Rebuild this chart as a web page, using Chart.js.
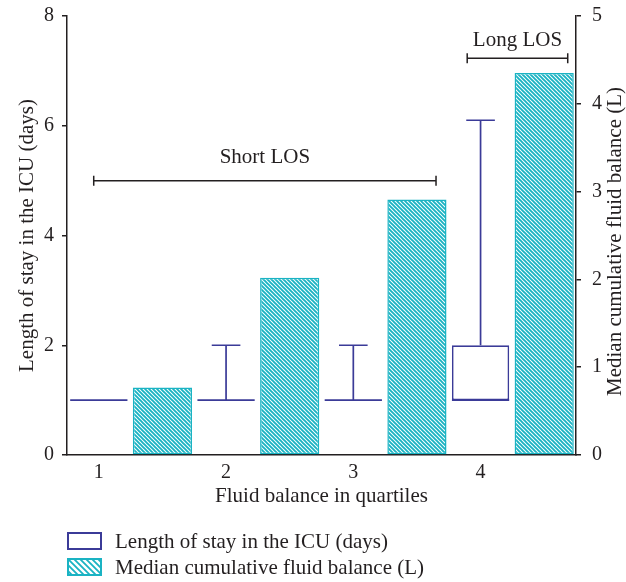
<!DOCTYPE html>
<html>
<head>
<meta charset="utf-8">
<script src="https://cdn.jsdelivr.net/npm/chart.js@4/dist/chart.umd.min.js"></script>
<style>
  body { margin: 0; background: #fff; }
  #wrap { position: relative; width: 626px; height: 582px; }
  #legend {
    position: absolute; left: 67px; top: 528px;
    font-family: "Liberation Serif", serif; font-size: 21px; color: #231f20;
  }
  .item { display: flex; align-items: center; height: 26px; }
  .swatch { width: 35px; height: 18px; box-sizing: border-box; margin-right: 13px; }
  .box { border: 2px solid #3b3b98; background: #fff; }
</style>
</head>
<body>
<div id="wrap">
  <canvas id="chart" width="626" height="582"></canvas>
  <div id="legend">
    <div class="item"><div class="swatch box"></div>Length of stay in the ICU (days)</div>
    <div class="item"><canvas class="swatch" id="hatchSwatch" width="35" height="18"></canvas>Median cumulative fluid balance (L)</div>
  </div>
</div>
<script>
// Data
const quartiles = ['1', '2', '3', '4'];
const losLow = [1, 1, 1, 1];          // box bottom / median line (days)
const losHigh = [1, 1, 1, 2];         // box top (days)
const losWhisker = [1, 2, 2, 6.1];    // whisker end (days)
const fluidMedian = [0.77, 2.02, 2.91, 4.35]; // litres

const leftTicks = [0, 2, 4, 6, 8];
const rightTicks = [0, 1, 2, 3, 4, 5];

// group brackets drawn above the bars (x in slot units, y in days)
const brackets = [
  { label: 'Short LOS', from: -0.08, to: 5.3, at: 5.0, textAt: 5.42 },
  { label: 'Long LOS', from: 5.79, to: 7.37, at: 7.23, textAt: 7.56 }
];

const NAVY = '#3b3b98';
const TEAL = '#1ab3c3';
const INK = '#231f20';
const FONT = { family: '"Liberation Serif", serif', size: 20 };
const TITLE_FONT = { family: '"Liberation Serif", serif', size: 21 };

function makeHatch(size, lw) {
  const c = document.createElement('canvas');
  c.width = c.height = size;
  const g = c.getContext('2d');
  g.fillStyle = '#fff';
  g.fillRect(0, 0, size, size);
  g.strokeStyle = TEAL;
  g.lineWidth = lw;
  g.beginPath();
  g.moveTo(-1, -1); g.lineTo(size + 1, size + 1);
  g.moveTo(-1, size - 1); g.lineTo(1, size + 1);
  g.moveTo(size - 1, -1); g.lineTo(size + 1, 1);
  g.stroke();
  return c;
}

const ctx = document.getElementById('chart').getContext('2d');
const hatch = ctx.createPattern(makeHatch(4, 1.9), 'repeat');

// legend swatch
(function () {
  const sw = document.getElementById('hatchSwatch').getContext('2d');
  sw.fillStyle = sw.createPattern(makeHatch(6, 1.8), 'repeat');
  sw.fillRect(0, 0, 35, 18);
  sw.strokeStyle = TEAL;
  sw.lineWidth = 2;
  sw.strokeRect(1, 1, 33, 16);
})();

// two slots per quartile: LOS box, then fluid bar
const slotLabels = quartiles.flatMap(q => [q, '']);
const losData = quartiles.flatMap((q, i) => [[losLow[i], losHigh[i]], null]);
const fluidData = quartiles.flatMap((q, i) => [null, fluidMedian[i]]);

const whiskerPlugin = {
  id: 'whiskers',
  afterDatasetsDraw(chart) {
    const c = chart.ctx;
    const yL = chart.scales.yL;
    const xs = chart.scales.x;
    const meta = chart.getDatasetMeta(0);
    c.save();
    c.strokeStyle = NAVY;
    c.lineWidth = 1.7;
    quartiles.forEach((q, i) => {
      const el = meta.data[i * 2];
      const half = el.width / 2;
      const x = el.x;
      const yLow = yL.getPixelForValue(losLow[i]);
      c.beginPath();
      c.moveTo(x - half, yLow); c.lineTo(x + half, yLow);
      if (losWhisker[i] > losHigh[i]) {
        const yHigh = yL.getPixelForValue(losHigh[i]);
        const yTop = yL.getPixelForValue(losWhisker[i]);
        c.moveTo(x, yHigh); c.lineTo(x, yTop);
        c.moveTo(x - half / 2, yTop); c.lineTo(x + half / 2, yTop);
      }
      c.stroke();
    });

    // brackets
    c.strokeStyle = INK;
    c.fillStyle = INK;
    c.lineWidth = 1.5;
    c.font = '21px "Liberation Serif", serif';
    c.textAlign = 'center';
    c.textBaseline = 'middle';
    brackets.forEach(b => {
      const x1 = xs.getPixelForValue(b.from);
      const x2 = xs.getPixelForValue(b.to);
      const y = yL.getPixelForValue(b.at);
      c.beginPath();
      c.moveTo(x1, y); c.lineTo(x2, y);
      c.moveTo(x1, y - 5); c.lineTo(x1, y + 5);
      c.moveTo(x2, y - 5); c.lineTo(x2, y + 5);
      c.stroke();
      c.fillText(b.label, (x1 + x2) / 2, yL.getPixelForValue(b.textAt));
    });

    // right axis title, reading bottom to top
    const yR = chart.scales.yR;
    c.save();
    c.translate(yR.right - 11, (chart.chartArea.top + chart.chartArea.bottom) / 2 + 6);
    c.rotate(-Math.PI / 2);
    c.fillText('Median cumulative fluid balance (L)', 0, 0);
    c.restore();
    c.restore();
  }
};

const axisLine = { display: true, color: INK, width: 1.5 };

function fixWidth(w) {
  return s => {
    s.width = w;
    s.paddingTop = 0; s.paddingBottom = 0;
  };
}

new Chart(ctx, {
  type: 'bar',
  data: {
    labels: slotLabels,
    datasets: [{
      label: 'Length of stay in the ICU (days)',
      data: losData,
      yAxisID: 'yL',
      backgroundColor: '#fff',
      borderColor: NAVY,
      borderWidth: 1.7,
      borderSkipped: false,
      grouped: false,
      barPercentage: 0.9,
      categoryPercentage: 1
    }, {
      label: 'Median cumulative fluid balance (L)',
      data: fluidData,
      yAxisID: 'yR',
      backgroundColor: hatch,
      borderColor: TEAL,
      borderWidth: 1.5,
      borderSkipped: false,
      grouped: false,
      barPercentage: 0.93,
      categoryPercentage: 1
    }]
  },
  options: {
    responsive: false,
    animation: false,
    layout: { padding: { top: 16, bottom: 73, left: 0, right: 0 } },
    plugins: { legend: { display: false }, tooltip: { enabled: false } },
    scales: {
      x: {
        grid: { display: false, drawTicks: false },
        border: axisLine,
        ticks: { autoSkip: false, maxRotation: 0, color: INK, font: FONT, padding: 6 },
        title: { display: true, text: 'Fluid balance in quartiles', color: INK, font: TITLE_FONT, padding: { top: 0, bottom: 0 } },
        afterFit: s => { s.height = 54; s.paddingLeft = 0; s.paddingRight = 0; }
      },
      yL: {
        position: 'left',
        min: 0, max: 8,
        afterBuildTicks: s => { s.ticks = leftTicks.map(v => ({ value: v })); },
        grid: { display: true, drawOnChartArea: false, drawTicks: true, tickLength: 5, color: INK, lineWidth: 1.5 },
        border: axisLine,
        ticks: { color: INK, font: FONT, padding: 8 },
        title: { display: true, text: 'Length of stay in the ICU (days)', color: INK, font: TITLE_FONT, padding: { top: 15, bottom: 0 } },
        afterFit: fixWidth(67)
      },
      yR: {
        position: 'right',
        min: 0, max: 5,
        afterBuildTicks: s => { s.ticks = rightTicks.map(v => ({ value: v })); },
        grid: { display: true, drawOnChartArea: false, drawTicks: true, tickLength: 5, color: INK, lineWidth: 1.5 },
        border: axisLine,
        ticks: { color: INK, font: FONT, padding: 11 },
        afterFit: fixWidth(50)
      }
    }
  },
  plugins: [whiskerPlugin]
});
</script>
</body>
</html>
